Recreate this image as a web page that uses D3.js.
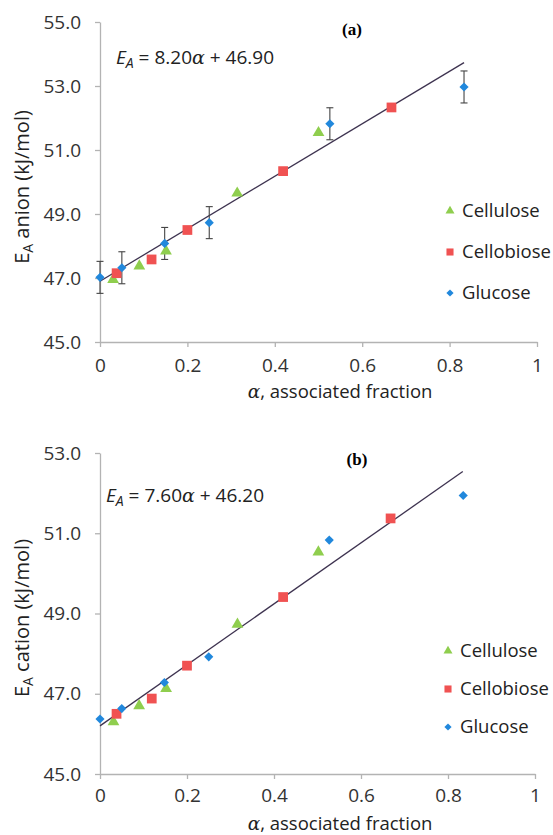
<!DOCTYPE html>
<html>
<head>
<meta charset="utf-8">
<script src="https://cdn.jsdelivr.net/npm/d3@7"></script>
<style>
  body { margin: 0; background: #fff; }
  svg { display: block; font-family: "Open Sans", sans-serif; }
</style>
</head>
<body>
<svg id="chart" width="553" height="835"></svg>
<script>
// series names and legend order
const seriesNames = ["Cellulose", "Cellobiose", "Glucose"];
const xTicks = [0, 0.2, 0.4, 0.6, 0.8, 1];

// (a) anion
const anionCelluloseX = [0.030, 0.090, 0.151, 0.314, 0.500];
const anionCelluloseY = [46.95, 47.37, 47.84, 49.65, 51.54];
const anionCellobioseX = [0.038, 0.118, 0.200, 0.419, 0.667];
const anionCellobioseY = [47.15, 47.58, 48.50, 50.34, 52.33];
const anionGlucoseX = [0.000, 0.050, 0.148, 0.250, 0.526, 0.833];
const anionGlucoseY = [47.02, 47.32, 48.08, 48.73, 51.82, 52.97];
const anionGlucoseErr = [0.5, 0.5, 0.5, 0.5, 0.5, 0.5];
const anionYTicks = [45, 47, 49, 51, 53, 55];
const anionFit = { slope: 8.20, intercept: 46.90, x0: 0, x1: 0.833 };

// (b) cation
const cationCelluloseX = [0.031, 0.090, 0.152, 0.316, 0.502];
const cationCelluloseY = [46.30, 46.70, 47.13, 48.73, 50.53];
const cationCellobioseX = [0.038, 0.119, 0.200, 0.421, 0.668];
const cationCellobioseY = [46.50, 46.88, 47.70, 49.41, 51.37];
const cationGlucoseX = [0.000, 0.050, 0.148, 0.250, 0.527, 0.835];
const cationGlucoseY = [46.37, 46.63, 47.28, 47.92, 50.83, 51.94];
const cationYTicks = [45, 47, 49, 51, 53];
const cationFit = { slope: 7.60, intercept: 46.20, x0: 0, x1: 0.834 };

const colors = { Cellulose: "#8fce4e", Cellobiose: "#f05252", Glucose: "#2188dc" };
// glucose diamond = square turned 45 degrees
const symbols = { Cellulose: d3.symbolTriangle, Cellobiose: d3.symbolSquare, Glucose: d3.symbolSquare };
const rotations = { Cellulose: 0, Cellobiose: 0, Glucose: 45 };

const svg = d3.select("#chart");

function drawPanel(cfg) {
  const x = d3.scaleLinear().domain([0, 1]).range(cfg.xRange);
  const y = d3.scaleLinear().domain(cfg.yDomain).range(cfg.yRange);
  const g = svg.append("g");

  // axes
  const yAxis = g.append("g")
    .attr("transform", `translate(${cfg.xRange[0]},0)`)
    .call(d3.axisLeft(y).tickValues(cfg.yTicks).tickFormat(d3.format(".1f")).tickSize(5).tickSizeOuter(0).tickPadding(14));
  const xAxis = g.append("g")
    .attr("transform", `translate(0,${cfg.yRange[0]})`)
    .call(d3.axisBottom(x).tickValues(xTicks).tickFormat(d => d).tickSize(5).tickSizeOuter(0).tickPadding(cfg.xPad));
  [yAxis, xAxis].forEach(a => {
    a.select(".domain").attr("stroke", "#b3b3b3").attr("stroke-width", 1.3);
    a.selectAll(".tick line").attr("stroke", "#b3b3b3").attr("stroke-width", 1.3);
    a.selectAll(".tick text").attr("fill", "#333").style("font-size", "19px").style("font-family", "Open Sans, sans-serif");
  });

  // fit line
  const f = cfg.fit;
  g.append("line")
    .attr("x1", x(f.x0)).attr("y1", y(f.slope * f.x0 + f.intercept))
    .attr("x2", x(f.x1)).attr("y2", y(f.slope * f.x1 + f.intercept))
    .attr("stroke", "#3e3350").attr("stroke-width", 1.3);

  // error bars
  if (cfg.err) {
    const eb = g.append("g").attr("stroke", "#444").attr("stroke-width", 1.1);
    cfg.series.Glucose.x.forEach((xv, i) => {
      const yv = cfg.series.Glucose.y[i], e = cfg.err[i];
      eb.append("line").attr("x1", x(xv)).attr("x2", x(xv)).attr("y1", y(yv - e)).attr("y2", y(yv + e));
      [yv - e, yv + e].forEach(v => {
        eb.append("line").attr("x1", x(xv) - 3.5).attr("x2", x(xv) + 3.5).attr("y1", y(v)).attr("y2", y(v));
      });
    });
  }

  // points
  seriesNames.forEach(name => {
    const s = cfg.series[name];
    const pts = s.x.map((xv, i) => [xv, s.y[i]]);
    const size = name === "Cellobiose" ? 95 : name === "Glucose" ? 42 : 60;
    g.append("g").selectAll("path")
      .data(pts)
      .join("path")
      .attr("transform", d => `translate(${x(d[0])},${y(d[1])}) rotate(${rotations[name]})`)
      .attr("d", d3.symbol(symbols[name], size))
      .attr("fill", colors[name]);
  });

  // legend
  seriesNames.forEach((name, i) => {
    const ly = cfg.legendY + i * cfg.legendGap;
    g.append("path")
      .attr("transform", `translate(${cfg.legendX},${ly}) rotate(${rotations[name]})`)
      .attr("d", d3.symbol(symbols[name], name === "Cellobiose" ? 50 : name === "Glucose" ? 26 : 35))
      .attr("fill", colors[name]);
    g.append("text")
      .attr("x", cfg.legendX + 12).attr("y", ly).attr("dy", "0.35em")
      .attr("fill", "#222").style("font-size", "18.5px")
      .text(name);
  });

  // axis titles
  g.append("text")
    .attr("x", 340).attr("y", cfg.xTitleY)
    .attr("text-anchor", "middle").attr("fill", "#222").style("font-size", "18.5px")
    .call(t => {
      t.append("tspan").attr("font-family", "DejaVu Serif, serif").attr("font-style", "italic").text("α");
      t.append("tspan").text(", associated fraction");
    });
  g.append("text")
    .attr("transform", `translate(29,${cfg.yTitleY}) rotate(-90)`)
    .attr("text-anchor", "middle").attr("fill", "#222").style("font-size", "20px")
    .call(t => {
      t.append("tspan").text("E");
      t.append("tspan").attr("baseline-shift", "-28%").style("font-size", "14px").text("A");
      t.append("tspan").text(" " + cfg.yLabel + " (kJ/mol)");
    });

  // equation
  g.append("text")
    .attr("x", cfg.eqX).attr("y", cfg.eqY)
    .attr("fill", "#222").style("font-size", "19px")
    .call(t => {
      t.append("tspan").attr("font-style", "italic").text("E");
      t.append("tspan").attr("font-style", "italic").attr("baseline-shift", "-28%").style("font-size", "14px").text("A");
      t.append("tspan").text(` = ${f.slope.toFixed(2)}`);
      t.append("tspan").attr("font-family", "DejaVu Serif, serif").attr("font-style", "italic").text("α");
      t.append("tspan").text(` + ${f.intercept.toFixed(2)}`);
    });

  // panel label
  g.append("text")
    .attr("x", cfg.tagX).attr("y", cfg.tagY)
    .attr("text-anchor", "middle")
    .style("font-family", "Liberation Serif, Times New Roman, serif")
    .style("font-weight", "bold").style("font-size", "17px")
    .text(cfg.tag);
}

drawPanel({
  xRange: [100, 537], yDomain: [45, 55], yRange: [342, 22], yTicks: anionYTicks, xPad: 12,
  fit: anionFit, err: anionGlucoseErr,
  series: {
    Cellulose: { x: anionCelluloseX, y: anionCelluloseY },
    Cellobiose: { x: anionCellobioseX, y: anionCellobioseY },
    Glucose: { x: anionGlucoseX, y: anionGlucoseY }
  },
  legendX: 450, legendY: 211, legendGap: 41,
  xTitleY: 398, yTitleY: 187, yLabel: "anion",
  eqX: 116, eqY: 64, tagX: 352, tagY: 35, tag: "(a)"
});

drawPanel({
  xRange: [100, 535], yDomain: [45, 53], yRange: [774, 453], yTicks: cationYTicks, xPad: 10,
  fit: cationFit, err: null,
  series: {
    Cellulose: { x: cationCelluloseX, y: cationCelluloseY },
    Cellobiose: { x: cationCellobioseX, y: cationCellobioseY },
    Glucose: { x: cationGlucoseX, y: cationGlucoseY }
  },
  legendX: 448, legendY: 651, legendGap: 38,
  xTitleY: 830, yTitleY: 618, yLabel: "cation",
  eqX: 106, eqY: 502, tagX: 357, tagY: 465, tag: "(b)"
});
</script>
</body>
</html>
